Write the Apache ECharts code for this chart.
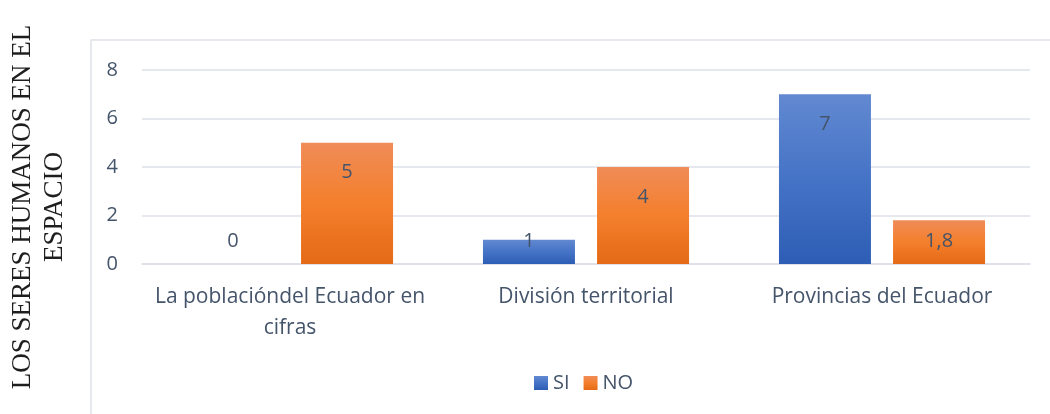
<!DOCTYPE html>
<html>
<head>
<meta charset="utf-8">
<script src="https://cdn.jsdelivr.net/npm/echarts@6/dist/echarts.min.js"></script>
<style>
  html, body { margin:0; padding:0; background:#fff; }
  #chart { width:1050px; height:414px; }
</style>
</head>
<body>
<div id="chart"></div>
<script>
// datos
const categorias = ["La poblacióndel Ecuador en\ncifras", "División territorial", "Provincias del Ecuador"];
const valoresSi = [0, 1, 7];
const valoresNo = [5, 4, 1.8];
const ticksY = [0, 2, 4, 6, 8];
const tituloEje = ["LOS SERES HUMANOS EN EL", "ESPACIO"];

const txt = "#44546a";
const lineas = "#dde1e8";
const fuente = "'Open Sans', sans-serif";

function grad(c0, c1, c2) {
  return new echarts.graphic.LinearGradient(0, 0, 0, 1, [
    { offset: 0, color: c0 }, { offset: 0.5, color: c1 }, { offset: 1, color: c2 }
  ]);
}
const azul = grad("#6289d1", "#4573c6", "#2d5db5");
const naranja = grad("#f08c58", "#f47f2c", "#e46a17");

// etiqueta dentro arriba, o fija cerca de la base si la barra es corta
function conEtiquetas(vals) {
  return vals.map(v => ({
    value: v,
    label: v > 2.2
      ? { position: "insideTop", distance: 20 }
      : { position: "insideBottom", distance: 13 }
  }));
}

const chart = echarts.init(document.getElementById("chart"));
chart.setOption({
  animation: false,
  textStyle: { fontFamily: fuente },
  grid: { left: 142, right: 20, top: 70, bottom: 150 },
  graphic: [
    { type: "rect", shape: { x: 91, y: 40, width: 1000, height: 400 },
      style: { fill: null, stroke: lineas, lineWidth: 1.5 }, silent: true },
    { type: "text", x: 23, y: 207, rotation: Math.PI / 2,
      style: { text: tituloEje[0], font: "27px 'Liberation Serif'", fill: "#1e1e1e", textAlign: "center", textVerticalAlign: "middle" } },
    { type: "text", x: 55, y: 207, rotation: Math.PI / 2,
      style: { text: tituloEje[1], font: "27px 'Liberation Serif'", fill: "#1e1e1e", textAlign: "center", textVerticalAlign: "middle" } }
  ],
  legend: {
    left: 529, top: 368, itemWidth: 14, itemHeight: 14, itemGap: 14,
    icon: "rect",
    textStyle: { color: txt, fontSize: 20, fontFamily: fuente },
    data: ["SI", "NO"]
  },
  xAxis: {
    type: "category",
    data: categorias,
    axisTick: { show: false },
    axisLine: { lineStyle: { color: lineas, width: 1.5 } },
    axisLabel: { color: txt, fontSize: 21, lineHeight: 31, margin: 18, interval: 0 }
  },
  yAxis: {
    type: "value",
    min: ticksY[0], max: ticksY[ticksY.length - 1], interval: 2,
    axisLabel: { color: txt, fontSize: 20, margin: 24 },
    splitLine: { lineStyle: { color: lineas, width: 1.5 } }
  },
  series: [
    { name: "SI", type: "bar", data: conEtiquetas(valoresSi), barWidth: 92, barGap: "24%",
      itemStyle: { color: azul },
      label: { show: true, color: txt, fontSize: 20, formatter: p => String(p.value).replace(".", ",") } },
    { name: "NO", type: "bar", data: conEtiquetas(valoresNo), barWidth: 92,
      itemStyle: { color: naranja },
      label: { show: true, color: txt, fontSize: 20, formatter: p => String(p.value).replace(".", ",") } }
  ]
});
</script>
</body>
</html>
